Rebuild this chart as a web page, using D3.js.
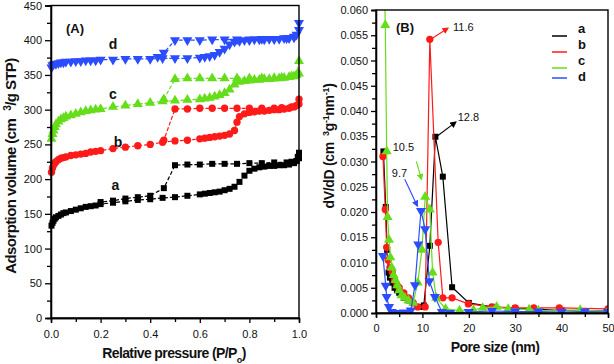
<!DOCTYPE html>
<html>
<head>
<meta charset="utf-8">
<script src="https://cdn.jsdelivr.net/npm/d3@7"></script>
<style>
  body { margin: 0; background: #fff; }
  svg { display: block; font-family: "Liberation Sans", Arial, sans-serif; }
  .tick text { font-size: 11px; fill: #111; }
  .axis path, .axis line { stroke: #000; stroke-width: 1.3; }
  .frame { fill: none; stroke: #000; stroke-width: 1.4; }
  .lbl { font-weight: bold; fill: #111; }
</style>
</head>
<body>
<svg id="chart" width="614" height="364"></svg>
<script>
// --- Panel A: N2 isotherms (relative pressure, volume) ---
const aAds = [[0.002,133],[0.006,137],[0.01,140],[0.015,143],[0.02,145],[0.03,147],[0.04,149],[0.05,151],[0.06,152],[0.08,154],[0.1,156],[0.12,158],[0.14,160],[0.16,161],[0.18,162],[0.2,164],[0.25,166],[0.3,168],[0.35,170],[0.4,171],[0.45,173],[0.5,174],[0.55,176],[0.6,178],[0.62,179],[0.64,180],[0.66,181],[0.68,182],[0.7,184],[0.72,186],[0.74,189],[0.76,196],[0.78,205],[0.8,212],[0.82,215],[0.84,217],[0.86,218],[0.88,219],[0.9,219],[0.92,220],[0.94,220],[0.96,221],[0.98,223],[0.99,226],[0.995,232],[1.0,238]];
const aDes = [[1.0,230],[0.99,226],[0.97,225],[0.95,224],[0.9,224],[0.85,223],[0.8,223],[0.75,222],[0.7,222],[0.65,222],[0.6,221],[0.55,221],[0.5,220],[0.455,187],[0.4,176],[0.35,174],[0.3,172],[0.25,169],[0.2,167]];
const bAds = [[0.002,210],[0.006,216],[0.01,220],[0.015,223],[0.02,225],[0.03,228],[0.04,230],[0.05,231],[0.06,232],[0.08,234],[0.1,235],[0.12,236],[0.14,237],[0.16,239],[0.18,240],[0.2,241],[0.25,244],[0.3,246],[0.35,248],[0.4,250],[0.45,253],[0.5,255],[0.55,256],[0.6,258],[0.62,259],[0.64,260],[0.66,261],[0.68,262],[0.7,263],[0.72,265],[0.74,270],[0.75,282],[0.76,290],[0.78,294],[0.8,296],[0.82,297],[0.84,298],[0.86,298],[0.88,299],[0.9,300],[0.92,300],[0.94,301],[0.96,302],[0.98,304],[0.99,306],[1.0,315]];
const bDes = [[1.0,308],[0.97,304],[0.93,303],[0.9,302],[0.85,302],[0.8,302],[0.75,302],[0.7,302],[0.65,302],[0.6,302],[0.55,301],[0.5,301],[0.455,256]];
const cAds = [[0.002,258],[0.006,265],[0.01,270],[0.015,275],[0.02,279],[0.03,283],[0.04,286],[0.05,288],[0.06,290],[0.08,292],[0.1,294],[0.12,296],[0.14,298],[0.16,299],[0.18,300],[0.2,301],[0.25,304],[0.3,306],[0.35,308],[0.4,310],[0.45,312],[0.5,313],[0.55,314],[0.6,315],[0.62,316],[0.64,317],[0.66,319],[0.68,321],[0.7,324],[0.72,329],[0.74,336],[0.76,340],[0.78,341],[0.8,342],[0.82,343],[0.84,343],[0.86,344],[0.88,344],[0.9,345],[0.92,345],[0.94,346],[0.96,347],[0.98,348],[0.99,350],[1.0,370]];
const cDes = [[1.0,352],[0.97,348],[0.93,346],[0.9,345],[0.85,345],[0.8,345],[0.75,345],[0.7,345],[0.65,345],[0.6,345],[0.55,345],[0.5,344],[0.455,315]];
const dAds = [[0.002,361],[0.006,364],[0.01,365],[0.02,366],[0.03,367],[0.04,368],[0.05,368],[0.06,369],[0.08,369],[0.1,370],[0.12,370],[0.14,371],[0.16,371],[0.18,371],[0.2,372],[0.25,372],[0.3,373],[0.35,373],[0.4,373],[0.45,374],[0.5,374],[0.55,374],[0.6,375],[0.62,376],[0.64,377],[0.66,379],[0.68,383],[0.7,388],[0.72,394],[0.74,398],[0.76,399],[0.78,400],[0.8,400],[0.82,401],[0.84,401],[0.86,401],[0.88,402],[0.9,402],[0.92,402],[0.94,403],[0.96,403],[0.98,404],[0.99,408],[1.0,425]];
const dDes = [[1.0,415],[0.98,405],[0.95,403],[0.9,402],[0.85,402],[0.8,401],[0.75,401],[0.7,401],[0.65,401],[0.6,400],[0.55,400],[0.5,400],[0.455,382],[0.43,376]];

// --- Panel B: pore size distribution (nm, dV/dD) ---
const psdA = [[1.6,0.032],[2.1,0.021],[2.4,0.0125],[2.7,0.008],[3.0,0.007],[3.5,0.006],[4.0,0.005],[4.5,0.0045],[5.0,0.004],[6.0,0.003],[7.0,0.0025],[8.0,0.002],[9.5,0.0012],[10.3,0.0015],[11.6,0.0133],[12.8,0.0349],[14.4,0.027],[16.4,0.0051],[20,0.002],[25,0.0012],[30,0.0009],[34,0.0008],[40,0.0005],[50,0.0004]];
const psdB = [[1.5,0.031],[2.0,0.0205],[2.3,0.013],[2.6,0.0105],[3.0,0.009],[3.5,0.008],[4.0,0.0065],[4.5,0.0055],[5.0,0.005],[6,0.004],[7,0.003],[8,0.002],[9,0.0012],[10.6,0.0012],[11.6,0.0542],[13.4,0.014],[14.4,0.003],[16.4,0.003],[19.9,0.0018],[25,0.0012],[30,0.001],[34,0.001],[39.5,0.001],[50,0.0008]];
const psdC = [[1.6,0.075],[2.0,0.057],[2.3,0.032],[2.5,0.019],[2.8,0.0145],[3.1,0.011],[3.4,0.009],[3.8,0.0075],[4.2,0.0065],[4.6,0.0055],[5.0,0.0045],[5.5,0.0035],[6.2,0.003],[7.0,0.0025],[8.0,0.002],[9.0,0.006],[9.9,0.0125],[10.6,0.023],[11.6,0.0205],[12.2,0.008],[13,0.003],[15,0.0008],[18,0.0005],[21,0.0006],[23,0.001],[26,0.0012],[28.5,0.0008],[33,0.0007],[35,0.0005],[44,0.0006],[50,0.0003]];
const psdD = [[1.5,0.0113],[2.1,0.0054],[2.3,0.0032],[2.8,0.0012],[3.4,0.0002],[4,0.0],[5,0.0],[6,0.0001],[7.5,0.0005],[8.4,0.0055],[9.1,0.0136],[9.7,0.0202],[10.6,0.0166],[11.5,0.0063],[12.7,0.0032],[14.2,0.0002],[16,0.0],[20,0.0002],[25,0.0004],[30,0.0003],[35,0.0003],[40,0.0002],[45,0.0003],[50,0.0002]];

const seriesNames = ["a", "b", "c", "d"];
const seriesColors = ["#000000", "#ff1a1a", "#66dd1a", "#2b4cff"];

// tick values
const ticksA_x = [0, 0.2, 0.4, 0.6, 0.8, 1.0];
const ticksA_y = [0, 50, 100, 150, 200, 250, 300, 350, 400, 450];
const ticksB_x = [0, 10, 20, 30, 40, 50];
const ticksB_y = [0, 0.005, 0.01, 0.015, 0.02, 0.025, 0.03, 0.035, 0.04, 0.045, 0.05, 0.055, 0.06];

// peak annotations for panel B: [label, series index, arrow start, arrow end, text anchor point]
const peakNotes = [
  ["11.6", 1, [11.8, 0.0542], [15.5, 0.0564], [16.6, 0.0566]],
  ["12.8", 0, [13.0, 0.0349], [17.2, 0.0378], [17.6, 0.0388]],
  ["10.5", 2, [8.7, 0.0300], [9.8, 0.0265], [3.6, 0.0328]],
  ["9.7", 3, [6.2, 0.0265], [8.9, 0.0212], [3.4, 0.0276]]
];

const svg = d3.select("#chart");
const symbols = [d3.symbolSquare, d3.symbolCircle, d3.symbolTriangle, d3.symbolTriangle];
const symSize = [36, 42, 44, 44];
const symRot = [0, 0, 0, 180];

// arrow heads
const defs = svg.append("defs");
seriesColors.forEach((c, i) => {
  defs.append("marker")
    .attr("id", "arr" + i)
    .attr("viewBox", "0 0 10 10").attr("refX", 8).attr("refY", 5)
    .attr("markerWidth", 6).attr("markerHeight", 6)
    .attr("orient", "auto")
    .append("path").attr("d", "M0,0L10,5L0,10z").attr("fill", c);
});

function drawSeries(g, pts, x, y, i, dashed) {
  g.append("path")
    .datum(pts)
    .attr("fill", "none")
    .attr("stroke", seriesColors[i])
    .attr("stroke-width", 1.2)
    .attr("stroke-dasharray", dashed ? "4,2" : null)
    .attr("d", d3.line().x(d => x(d[0])).y(d => y(d[1])));
  g.selectAll(null)
    .data(pts)
    .join("path")
    .attr("transform", d => `translate(${x(d[0])},${y(d[1])}) rotate(${symRot[i]})`)
    .attr("d", d3.symbol().type(symbols[i]).size(symSize[i]))
    .attr("fill", seriesColors[i]);
}

// ---------------- Panel A ----------------
const xA = d3.scaleLinear().domain([0, 1]).range([51, 299]);
const yA = d3.scaleLinear().domain([0, 450]).range([318, 5.5]);

const gA = svg.append("g");
const isoData = [[aAds, aDes], [bAds, bDes], [cAds, cDes], [dAds, dDes]];
isoData.forEach((pair, i) => {
  drawSeries(gA, pair[1], xA, yA, i, true);
  drawSeries(gA, pair[0], xA, yA, i, true);
});

gA.append("g").attr("class", "axis").attr("transform", "translate(0,318)")
  .call(d3.axisBottom(xA).tickValues(d3.range(0.1, 1, 0.2)).tickSize(4).tickFormat(""));
gA.append("g").attr("class", "axis").attr("transform", "translate(0,318)")
  .call(d3.axisBottom(xA).tickValues(ticksA_x).tickSize(5).tickPadding(7).tickFormat(d3.format(".1f")));
gA.append("g").attr("class", "axis").attr("transform", "translate(51,0)")
  .call(d3.axisLeft(yA).tickValues(d3.range(25, 450, 50)).tickSize(4).tickFormat(""));
gA.append("g").attr("class", "axis").attr("transform", "translate(51,0)")
  .call(d3.axisLeft(yA).tickValues(ticksA_y).tickSize(6).tickPadding(3));
gA.append("rect").attr("class", "frame")
  .attr("x", 51).attr("y", 5.5).attr("width", 248).attr("height", 312.5);

gA.append("text").attr("class", "lbl").attr("x", 66).attr("y", 33).style("font-size", "13px").text("(A)");
[["a", 0.26, 185], ["b", 0.27, 246], ["c", 0.25, 316], ["d", 0.25, 387]].forEach(t => {
  gA.append("text").attr("class", "lbl").attr("x", xA(t[1])).attr("y", yA(t[2]))
    .attr("text-anchor", "middle").style("font-size", "14px").text(t[0]);
});

const ylabA = gA.append("text").attr("class", "lbl")
  .attr("transform", "translate(16,166) rotate(-90)")
  .attr("text-anchor", "middle").style("font-size", "15px").style("letter-spacing", "-0.6px");
ylabA.append("tspan").text("Adsorption volume (cm");
ylabA.append("tspan").attr("dx", 8).attr("baseline-shift", "super").style("font-size", "10px").text("3");
ylabA.append("tspan").text("/g STP)");

const xlabA = gA.append("text").attr("class", "lbl")
  .attr("x", 174).attr("y", 358).attr("text-anchor", "middle")
  .style("font-size", "14px").style("letter-spacing", "-0.6px");
xlabA.append("tspan").text("Relative pressure (P/P");
xlabA.append("tspan").attr("baseline-shift", "sub").style("font-size", "9px").text("o");
xlabA.append("tspan").text(")");

// ---------------- Panel B ----------------
const xB = d3.scaleLinear().domain([0, 50]).range([376, 608]);
const yB = d3.scaleLinear().domain([0, 0.06]).range([313, 10]);

defs.append("clipPath").attr("id", "clipB")
  .append("rect").attr("x", 376).attr("y", 10).attr("width", 232).attr("height", 303);

const gB = svg.append("g");
const plotB = gB.append("g").attr("clip-path", "url(#clipB)");
[psdA, psdB, psdC, psdD].forEach((pts, i) => drawSeries(plotB, pts, xB, yB, i, false));

gB.append("g").attr("class", "axis").attr("transform", "translate(0,313)")
  .call(d3.axisBottom(xB).tickValues(d3.range(5, 50, 10)).tickSize(4).tickFormat(""));
gB.append("g").attr("class", "axis").attr("transform", "translate(0,313)")
  .call(d3.axisBottom(xB).tickValues(ticksB_x).tickSize(5).tickPadding(6).tickFormat(d3.format("d")));
gB.append("g").attr("class", "axis").attr("transform", "translate(376,0)")
  .call(d3.axisLeft(yB).tickValues(d3.range(0.0025, 0.06, 0.005)).tickSize(4).tickFormat(""));
gB.append("g").attr("class", "axis").attr("transform", "translate(376,0)")
  .call(d3.axisLeft(yB).tickValues(ticksB_y).tickSize(5).tickPadding(3).tickFormat(d3.format(".3f")));
gB.append("rect").attr("class", "frame")
  .attr("x", 376).attr("y", 10).attr("width", 232).attr("height", 303);

gB.append("text").attr("class", "lbl").attr("x", 396).attr("y", 32).style("font-size", "13px").text("(B)");

peakNotes.forEach(n => {
  gB.append("line")
    .attr("x1", xB(n[2][0])).attr("y1", yB(n[2][1]))
    .attr("x2", xB(n[3][0])).attr("y2", yB(n[3][1]))
    .attr("stroke", seriesColors[n[1]]).attr("stroke-width", 1.1)
    .attr("marker-end", `url(#arr${n[1]})`);
  gB.append("text").attr("x", xB(n[4][0])).attr("y", yB(n[4][1]))
    .attr("dy", "0.35em").style("font-size", "11px").attr("fill", "#111").text(n[0]);
});

// legend
const legY = [36, 52, 68, 78];
seriesNames.forEach((s, i) => {
  gB.append("line").attr("x1", 552).attr("x2", 567).attr("y1", legY[i]).attr("y2", legY[i])
    .attr("stroke", seriesColors[i]).attr("stroke-width", 1.5);
  gB.append("text").attr("class", "lbl").attr("x", 578).attr("y", 28 + i * 16.3)
    .attr("dy", "0.35em").style("font-size", "13px").text(s);
});

const ylabB = gB.append("text").attr("class", "lbl")
  .attr("transform", "translate(334,146) rotate(-90)")
  .attr("text-anchor", "middle").style("font-size", "14px").style("letter-spacing", "-0.3px");
ylabB.append("tspan").text("dV/dD (cm");
ylabB.append("tspan").attr("dx", 6).attr("baseline-shift", "super").style("font-size", "9px").text("3");
ylabB.append("tspan").text("g");
ylabB.append("tspan").attr("baseline-shift", "super").style("font-size", "9px").text("-1");
ylabB.append("tspan").text("nm");
ylabB.append("tspan").attr("baseline-shift", "super").style("font-size", "9px").text("-1");
ylabB.append("tspan").text(")");

gB.append("text").attr("class", "lbl").attr("x", 495).attr("y", 352)
  .attr("text-anchor", "middle").style("font-size", "14px").style("letter-spacing", "-0.5px")
  .text("Pore size (nm)");
</script>
</body>
</html>
